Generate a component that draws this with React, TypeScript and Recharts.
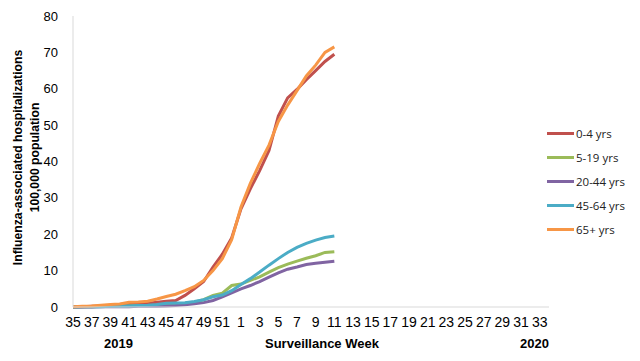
import { LineChart, Line, XAxis, YAxis } from "recharts"

const weeks = [
  35, 36, 37, 38, 39, 40, 41, 42, 43, 44, 45, 46, 47, 48, 49, 50, 51, 52,
  1, 2, 3, 4, 5, 6, 7, 8, 9, 10, 11, 12, 13, 14, 15, 16, 17, 18, 19, 20,
  21, 22, 23, 24, 25, 26, 27, 28, 29, 30, 31, 32, 33, 34,
]

// reported weeks 35 (2019) through 11 (2020)
const age0to4 = [
  0, 0.1, 0.2, 0.3, 0.4, 0.5, 0.7, 0.8, 1.0, 1.3, 1.6, 1.8, 3.2, 5.0, 7.0, 11, 14.5, 19,
  27, 32.5, 37.5, 43, 52.5, 57.5, 59.8, 62.5, 65, 67.5, 69.5,
]
const age5to19 = [
  0, 0.1, 0.1, 0.2, 0.2, 0.3, 0.3, 0.4, 0.4, 0.5, 0.7, 0.9, 1.0, 1.3, 2.0, 3.2, 3.8, 5.9,
  6.3, 7.3, 8.3, 9.6, 10.8, 11.8, 12.6, 13.4, 14.1, 15.0, 15.2,
]
const age20to44 = [
  0, 0, 0, 0.1, 0.1, 0.1, 0.1, 0.2, 0.2, 0.2, 0.3, 0.4, 0.6, 0.9, 1.2, 1.8, 2.8, 3.9,
  5.0, 5.9, 7.0, 8.2, 9.4, 10.4, 11.0, 11.7, 12.0, 12.3, 12.6,
]
const age45to64 = [
  0, 0.1, 0.1, 0.1, 0.2, 0.2, 0.3, 0.4, 0.5, 0.7, 1.0, 1.1, 1.2, 1.5, 2.0, 2.8, 3.3, 4.5,
  6.2, 7.8, 9.6, 11.5, 13.3, 15.0, 16.4, 17.5, 18.4, 19.1, 19.5,
]
const age65plus = [
  0.1, 0.2, 0.3, 0.5, 0.7, 0.8, 1.3, 1.4, 1.6, 2.2, 2.9, 3.5, 4.5, 5.6, 7.3, 10, 13.3, 18.5,
  27.5, 34, 39.5, 44.5, 51, 55.5, 59.5, 63.5, 66.5, 70, 71.5,
]

const yTicks = [0, 10, 20, 30, 40, 50, 60, 70, 80]

const SERIES = [
  { key: "a0", label: "0-4 yrs", color: "#C0504D", values: age0to4 },
  { key: "a5", label: "5-19 yrs", color: "#9BBB59", values: age5to19 },
  { key: "a20", label: "20-44 yrs", color: "#8064A2", values: age20to44 },
  { key: "a45", label: "45-64 yrs", color: "#4BACC6", values: age45to64 },
  { key: "a65", label: "65+ yrs", color: "#F79646", values: age65plus },
]

const data = weeks.map((w, i) => {
  const row: Record<string, number | string | null> = { week: String(w) }
  SERIES.forEach((s) => {
    row[s.key] = i < s.values.length ? s.values[i] : null
  })
  return row
})

const FONT = "'Liberation Sans', Arial, sans-serif"
const NARROW = "'Liberation Sans Narrow', 'Arial Narrow', 'Liberation Sans', sans-serif"

function YLabel({ viewBox }: any) {
  const cy = (viewBox ? viewBox.y + viewBox.height / 2 : 150) - 4
  return (
    <g transform={`rotate(-90, 0, ${cy})`}>
      <text x={0} y={cy} textAnchor="middle" fontFamily={FONT} fontWeight="bold" fontSize={12.2} fill="#000">
        <tspan x={0} y={cy + 14}>Influenza-associated hospitalizations</tspan>
        <tspan x={0} y={cy + 31}>100,000 population</tspan>
      </text>
    </g>
  )
}

export default function App() {
  return (
    <div style={{ position: "relative", width: 632, height: 353 }}>
      <LineChart
        width={632}
        height={353}
        data={data}
        margin={{ top: 8, right: 91, bottom: 29, left: 30 }}
      >
        <XAxis
          dataKey="week"
          interval={1}
          tickLine={false}
          tickMargin={4}
          stroke="#d9d9d9"
          tick={{ fill: "#000", fontSize: 14, fontFamily: NARROW }}
          height={25}
        />
        <YAxis
          domain={[0, 80]}
          ticks={yTicks}
          width={35}
          tickLine={false}
          tickMargin={9}
          stroke="#d9d9d9"
          tick={{ fill: "#000", fontSize: 13, fontFamily: FONT }}
          label={<YLabel />}
        />
        {SERIES.map((s) => (
          <Line
            key={s.key}
            dataKey={s.key}
            name={s.label}
            stroke={s.color}
            strokeWidth={3}
            dot={false}
            activeDot={false}
            connectNulls={false}
            isAnimationActive={false}
          />
        ))}
      </LineChart>
      <div style={{ position: "absolute", left: 539, top: 113, fontFamily: "'Open Sans', sans-serif", fontSize: 11.5, color: "#222" }}>
        {SERIES.map((s) => (
          <div key={s.key} style={{ display: "flex", alignItems: "center", height: 24 }}>
            <div style={{ width: 27, height: 3, background: s.color, marginRight: 2 }} />
            <span>{s.label}</span>
          </div>
        ))}
      </div>
      <div style={{ position: "absolute", top: 328, left: 0, width: 632, fontFamily: FONT, fontWeight: "bold", fontSize: 13 }}>
        <span style={{ position: "absolute", left: 96 }}>2019</span>
        <span style={{ position: "absolute", left: 257 }}>Surveillance Week</span>
        <span style={{ position: "absolute", left: 512 }}>2020</span>
      </div>
    </div>
  )
}
